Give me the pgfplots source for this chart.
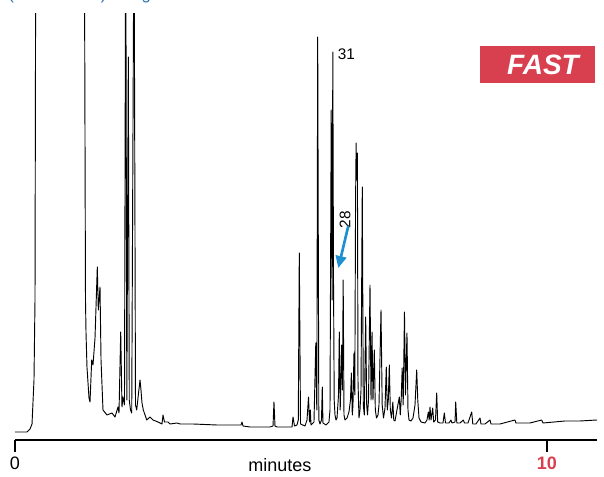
\documentclass[border=0pt]{standalone}
\usepackage{pgfplots}
\pgfplotsset{compat=1.18}
\usepackage{pgfplotstable}
\usepackage{fontspec}
\setmainfont{Liberation Sans}
\usetikzlibrary{arrows.meta}
\definecolor{fastred}{HTML}{D9404F}
\definecolor{arrowblue}{HTML}{1E8FD0}
\definecolor{textblue}{HTML}{2B72B4}

\pgfplotstableread{
t s
0.000 0
0.226 0
0.282 3
0.320 8
0.357 52
0.376 132
0.395 632
0.846 732
1.297 632
1.325 132
1.335 99
1.353 65
1.391 34
1.410 30
1.442 72
1.466 67
1.504 94
1.547 165
1.566 122
1.598 145
1.617 72
1.654 22
1.729 17
1.823 19
1.880 15
1.936 25
1.955 19
1.987 100
2.011 25
2.030 35
2.058 27
2.081 532
2.102 32
2.130 375
2.148 32
2.171 22
2.194 19
2.237 532
2.265 27
2.288 22
2.318 37
2.350 52
2.368 42
2.387 29
2.412 22
2.476 12
2.538 15
2.594 12
2.688 10
2.763 8
2.782 17
2.810 10
2.876 10
2.914 8
3.045 9
3.102 8
3.346 8
3.797 7
4.248 7
4.267 10
4.286 6
4.417 5
4.793 5
4.850 6
4.868 30
4.887 6
4.925 5
5.207 5
5.226 15
5.254 6
5.301 7
5.325 12
5.344 179
5.367 8
5.451 6
5.489 12
5.517 35
5.536 10
5.551 22
5.564 7
5.620 10
5.654 89
5.673 22
5.690 395
5.711 12
5.733 8
5.761 12
5.776 45
5.789 9
5.846 7
5.902 10
5.921 22
5.944 322
5.962 132
5.974 380
5.987 152
6.000 32
6.015 17
6.034 12
6.053 14
6.081 37
6.096 100
6.113 22
6.141 87
6.154 42
6.169 152
6.184 17
6.203 12
6.241 14
6.278 20
6.306 32
6.323 59
6.340 17
6.353 27
6.372 79
6.387 37
6.402 232
6.412 289
6.421 252
6.436 279
6.447 52
6.466 14
6.485 22
6.504 42
6.528 245
6.547 27
6.566 17
6.592 115
6.611 27
6.626 17
6.645 32
6.673 147
6.692 32
6.711 100
6.729 32
6.754 82
6.773 22
6.795 14
6.823 17
6.842 27
6.880 122
6.902 27
6.927 14
6.955 24
6.979 65
6.998 22
7.017 32
7.036 67
7.055 22
7.077 14
7.102 30
7.120 12
7.143 11
7.180 22
7.224 35
7.242 17
7.259 32
7.278 64
7.297 27
7.321 120
7.340 37
7.368 99
7.387 22
7.406 12
7.444 11
7.481 14
7.519 27
7.551 62
7.571 32
7.594 14
7.632 10
7.707 9
7.744 12
7.769 20
7.786 12
7.801 25
7.820 12
7.852 24
7.870 10
7.904 12
7.927 39
7.945 10
7.989 9
8.045 9
8.070 19
8.092 9
8.158 9
8.195 12
8.214 9
8.271 10
8.284 30
8.305 9
8.365 9
8.427 12
8.449 9
8.515 9
8.585 20
8.605 8
8.665 8
8.741 14
8.759 8
8.835 8
8.929 12
8.947 8
9.117 8
9.398 12
9.417 9
9.680 9
9.900 12
9.925 9
10.338 11
10.620 11
10.940 12
}\chrom

\begin{document}
\begin{tikzpicture}
\useasboundingbox (0,0) rectangle (453pt,357.75pt);
% partially visible caption line at the very top
\node[anchor=base west, text=textblue, font=\fontsize{12.5}{15}\selectfont, inner sep=0pt]
  at (6pt,358.4pt) {(Rxi-5Sil MS) using a GC-MS method};
\begin{axis}[
  at={(11.25pt,27.75pt)}, anchor=south west,
  scale only axis, width=436.5pt, height=319.5pt,
  xmin=0, xmax=10.94, ymin=-8, ymax=418,
  axis x line*=bottom, axis y line=none,
  x axis line style={line width=1.1pt, black},
  xtick={0,10}, xticklabels={0,{\textbf{\color{fastred}10}}},
  xtick pos=bottom, tick align=outside,
  major tick length=9pt,
  tick style={line width=1.1pt, black},
  minor tick num=0,
  /pgf/number format/assume math mode=true,
  tick label style={font=\fontsize{13.5}{16}\selectfont},
  clip mode=individual,
]
\addplot[black, line width=0.7pt, line join=round] table[x=t, y=s] {\chrom};
\node[font=\fontsize{11.5}{13}\selectfont] at (axis cs:6.231,378) {31};
\node[font=\fontsize{11.5}{13}\selectfont, rotate=90] at (axis cs:6.203,212) {28};
\draw[arrowblue, line width=2pt, -{Triangle[length=9pt,width=8pt]}]
  (axis cs:6.265,206) -- (axis cs:6.077,164);
\node[font=\fontsize{13.5}{16}\selectfont] at (axis cs:4.98,-33) {minutes};
\end{axis}
% FAST badge
\fill[fastred] (360pt,295.5pt) rectangle (446.25pt,323.25pt);
\node[text=white, font=\fontsize{21}{24}\bfseries\itshape] at (407.25pt,309pt) {FAST};
\end{tikzpicture}
\end{document}
